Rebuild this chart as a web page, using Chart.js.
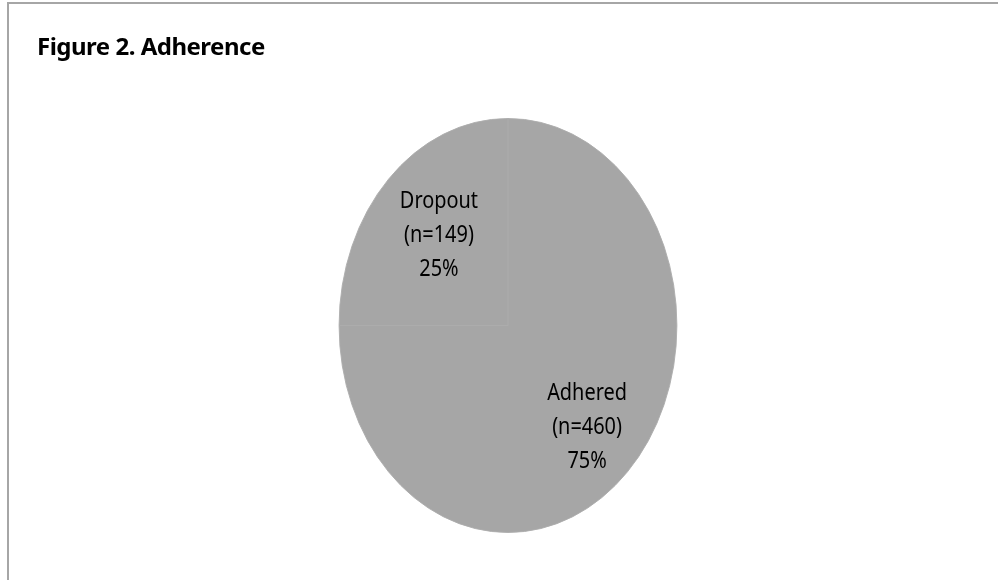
<!DOCTYPE html>
<html lang="en">
<head>
    <meta charset="UTF-8">
    <title>Figure 2. Adherence</title>
    <script src="https://cdn.jsdelivr.net/npm/chart.js"></script>
    <style>
        body {
            margin: 0;
            background: #ffffff;
            font-family: "Noto Sans", Arial, sans-serif;
        }
        .frame {
            position: absolute;
            left: 7px;
            top: 2px;
            width: 1000px;
            height: 600px;
            border-top: 2px solid #a6a6a6;
            border-left: 2px solid #a6a6a6;
        }
        .title {
            position: absolute;
            left: 37px;
            top: 29px;
            font-family: "Noto Sans", sans-serif;
            font-weight: bold;
            font-size: 24px;
            letter-spacing: -0.5px;
            color: #000000;
            white-space: nowrap;
        }
        canvas {
            position: absolute;
            left: 0;
            top: 0;
        }
    </style>
</head>
<body>
    <div class="frame"></div>
    <canvas id="pieChart" width="998" height="580"></canvas>
    <div class="title">Figure 2. Adherence</div>

    <script>
        // Datos
        const categories = ["Adhered", "Dropout"];
        const counts = [460, 149];
        const percents = [75, 25];

        const sliceColor = "#a6a6a6";
        const squeezeX = 0.816; // the pie is drawn as an ellipse

        // Stretch the pie into an ellipse
        const ellipsePlugin = {
            id: "ellipse",
            beforeDatasetsDraw(chart) {
                const arc = chart.getDatasetMeta(0).data[0];
                const ctx = chart.ctx;
                ctx.save();
                ctx.translate(arc.x, arc.y);
                ctx.scale(squeezeX, 1);
                ctx.translate(-arc.x, -arc.y);
            },
            afterDatasetsDraw(chart) {
                chart.ctx.restore();
            }
        };

        // Labels inside each slice (narrow text, like the original)
        const labelPlugin = {
            id: "sliceLabels",
            afterDraw(chart) {
                const ctx = chart.ctx;
                const arcs = chart.getDatasetMeta(0).data;
                arcs.forEach((arc, i) => {
                    const mid = (arc.startAngle + arc.endAngle) / 2;
                    const px = arc.x + 5 + Math.cos(mid) * arc.outerRadius * 0.62 * squeezeX;
                    const py = arc.y + 4 + Math.sin(mid) * arc.outerRadius * 0.655;
                    const lines = [categories[i], "(n=" + counts[i] + ")", percents[i] + "%"];
                    ctx.save();
                    ctx.translate(px, py);
                    ctx.scale(0.83, 1);
                    ctx.fillStyle = "#000000";
                    ctx.font = "24px 'Noto Sans', sans-serif";
                    ctx.textAlign = "center";
                    ctx.textBaseline = "alphabetic";
                    lines.forEach((t, j) => {
                        ctx.fillText(t, 0, 8.5 + (j - 1) * 34);
                    });
                    ctx.restore();
                });
            }
        };

        const chart = new Chart(document.getElementById("pieChart"), {
            type: "pie",
            data: {
                labels: categories,
                datasets: [{
                    data: percents,
                    backgroundColor: sliceColor,
                    borderColor: "#acacac",
                    borderWidth: 1
                }]
            },
            options: {
                responsive: false,
                animation: false,
                layout: {
                    padding: { top: 118, bottom: 47, left: 18, right: 0 }
                },
                plugins: {
                    legend: { display: false },
                    tooltip: { enabled: false }
                }
            },
            plugins: [ellipsePlugin, labelPlugin]
        });
    </script>
</body>
</html>
